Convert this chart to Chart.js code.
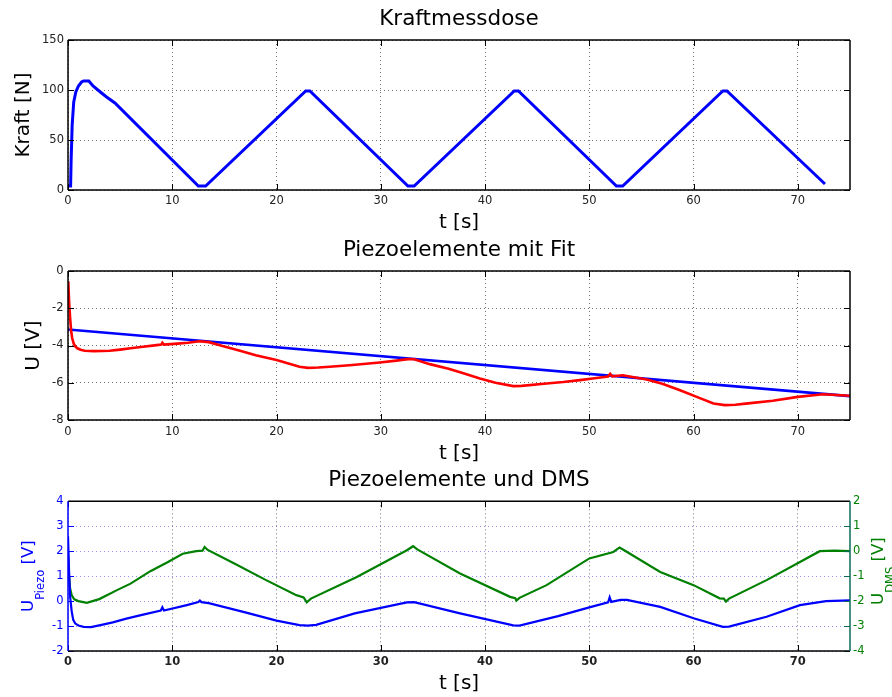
<!DOCTYPE html>
<html>
<head>
<meta charset="utf-8">
<script src="https://cdn.jsdelivr.net/npm/chart.js@4.4.1/dist/chart.umd.min.js"></script>
<style>
  html, body { margin: 0; padding: 0; background: #fff; }
  #wrap { position: relative; width: 892px; height: 697px; overflow: hidden; background: #fff; }
  #wrap canvas { position: absolute; left: 0; }
</style>
</head>
<body>
<div id="wrap">
  <canvas id="c1" width="892" height="236" style="top:0px"></canvas>
  <canvas id="c2" width="892" height="232" style="top:236px"></canvas>
  <canvas id="c3" width="892" height="229" style="top:468px"></canvas>
</div>
<script>
// ---- Kraftmessdose: force over time ----
const kraftT = [0.05, 0.25, 0.3, 0.4, 0.55, 0.75, 1.0, 1.3, 1.5, 2.0, 2.4, 3.1, 3.7, 4.5, 12.5, 13.2,
                22.8, 23.2, 32.6, 33.2, 42.8, 43.2, 52.6, 53.2, 62.8, 63.2, 72.6];
const kraftF = [4, 4, 30, 65, 88, 98, 104, 108, 109, 109, 104, 98, 93, 87, 4, 4,
                99, 99, 4, 4, 99, 99, 4, 4, 99, 99, 6];

// ---- Piezoelemente mit Fit: measured voltage and linear fit ----
const piezoT = [0.03, 0.1, 0.2, 0.3, 0.4, 0.55, 0.7, 0.9, 1.2, 1.6, 2.5, 4.0, 5.0, 6.0, 7.0, 8.5, 8.95, 9.05, 9.2,
                10.5, 11.5, 12.6, 13.5, 15.0, 16.5, 18.0, 20.0, 22.2, 23.0, 24.0, 25.1, 27.0, 29.9, 31.5, 32.6, 33.2,
                34.7, 36.5, 38.0, 39.5, 41.0, 42.7, 43.5, 45.9, 47.5, 49.1, 50.5, 51.8, 52.0, 52.2, 53.2, 55.5,
                57.0, 58.7, 60.3, 61.9, 63.0, 64.0, 65.0, 67.6, 70.0, 72.4, 75.0];
const piezoU = [-0.55, -1.6, -2.5, -3.2, -3.6, -3.9, -4.05, -4.15, -4.23, -4.28, -4.3, -4.28, -4.22, -4.15, -4.08, -3.98, -3.95, -3.85, -3.95,
                -3.9, -3.85, -3.77, -3.82, -4.05, -4.28, -4.52, -4.78, -5.14, -5.2, -5.18, -5.14, -5.06, -4.91, -4.81, -4.73, -4.74,
                -5.0, -5.25, -5.5, -5.77, -6.0, -6.18, -6.17, -6.04, -5.96, -5.86, -5.76, -5.66, -5.52, -5.66, -5.6, -5.82,
                -6.05, -6.4, -6.76, -7.11, -7.2, -7.18, -7.12, -6.97, -6.76, -6.62, -6.7];
const fitT = [0, 75];
const fitU = [-3.14, -6.72];

// ---- Piezoelemente und DMS ----
const piezo2T = [0, 0.1, 0.2, 0.35, 0.5, 0.7, 1.0, 1.5, 2.2, 3.0, 4.3, 5.6, 7.0, 8.9, 9.05, 9.2, 11.4, 12.5, 12.65, 12.8,
                 13.5, 17.0, 20.0, 22.2, 23.0, 23.8, 27.5, 32.5, 33.2, 37.6, 42.7, 43.3, 47.0, 50.0, 51.8, 51.95, 52.1,
                 53.0, 53.6, 56.8, 60.0, 62.8, 63.4, 67.0, 70.2, 72.7, 75.0];
const piezo2U = [2.6, 1.2, 0.2, -0.4, -0.75, -0.9, -0.98, -1.03, -1.04, -0.97, -0.85, -0.7, -0.56, -0.38, -0.25, -0.38, -0.16, -0.04, 0.02, -0.04,
                 -0.08, -0.45, -0.78, -0.96, -0.98, -0.95, -0.49, -0.05, -0.04, -0.49, -0.97, -0.98, -0.6, -0.25, -0.05, 0.15, -0.03,
                 0.05, 0.05, -0.23, -0.69, -1.03, -1.02, -0.63, -0.16, 0.0, 0.03];
const dmsT = [0, 0.1, 0.2, 0.35, 0.6, 1.0, 1.8, 3.0, 4.7, 6.0, 7.9, 9.5, 11.0, 12.3, 12.9, 13.1, 13.4, 16.0, 19.0, 21.9,
              22.6, 22.9, 23.3, 27.7, 32.5, 33.1, 33.5, 37.6, 42.4, 42.9, 43.0, 43.3, 45.9, 50.0, 52.3, 52.9, 53.3,
              56.8, 60.0, 62.5, 62.9, 63.1, 63.4, 67.0, 70.2, 72.1, 73.5, 75.0];
const dmsU = [0.0, -1.0, -1.5, -1.76, -1.93, -2.0, -2.07, -1.92, -1.56, -1.3, -0.8, -0.45, -0.1, 0.0, 0.02, 0.17, 0.05, -0.5, -1.16, -1.76,
              -1.85, -2.05, -1.9, -1.03, 0.04, 0.2, 0.07, -0.89, -1.83, -1.88, -1.98, -1.87, -1.36, -0.29, -0.03, 0.15, 0.05,
              -0.83, -1.36, -1.89, -1.9, -2.02, -1.9, -1.16, -0.43, 0.0, 0.02, 0.0];

const FONT = "'DejaVu Sans', sans-serif";
Chart.defaults.font.family = FONT;
Chart.defaults.color = '#222';

const pts = (xs, ys) => xs.map((x, i) => ({ x, y: ys[i] }));
const GRID = 'rgba(0,0,0,0.55)';
const DMS_GREEN = '#008000';
const RIGHT_AXIS = '#0a6a5a';

// Axes box with inward tick marks on all four sides
const framePlugin = {
  id: 'frame',
  afterDatasetsDraw(chart, args, opts) {
    const { ctx, chartArea: a } = chart;
    const L = 6;
    const xs = chart.scales.x, yl = chart.scales.y, yr = chart.scales.y2 || chart.scales.y;
    ctx.save();
    ctx.lineWidth = 1;
    ctx.strokeStyle = '#000';
    ctx.beginPath();
    xs.ticks.forEach(t => {
      const px = Math.round(xs.getPixelForValue(t.value)) + 0.5;
      ctx.moveTo(px, a.bottom); ctx.lineTo(px, a.bottom - L);
      ctx.moveTo(px, a.top); ctx.lineTo(px, a.top + L);
    });
    ctx.stroke();
    ctx.strokeStyle = opts.left;
    ctx.beginPath();
    yl.ticks.forEach(t => {
      const py = Math.round(yl.getPixelForValue(t.value)) + 0.5;
      ctx.moveTo(a.left, py); ctx.lineTo(a.left + L, py);
      if (yr === yl) { ctx.moveTo(a.right, py); ctx.lineTo(a.right - L, py); }
    });
    ctx.stroke();
    if (yr !== yl) {
      ctx.strokeStyle = opts.right;
      ctx.beginPath();
      yr.ticks.forEach(t => {
        const py = Math.round(yr.getPixelForValue(t.value)) + 0.5;
        ctx.moveTo(a.right, py); ctx.lineTo(a.right - L, py);
      });
      ctx.stroke();
    }
    ctx.lineWidth = 1.5;
    ctx.strokeStyle = '#000';
    ctx.beginPath();
    ctx.moveTo(a.left, a.top); ctx.lineTo(a.right, a.top);
    ctx.moveTo(a.left, a.bottom); ctx.lineTo(a.right, a.bottom);
    ctx.stroke();
    ctx.strokeStyle = opts.left;
    ctx.beginPath(); ctx.moveTo(a.left, a.top); ctx.lineTo(a.left, a.bottom); ctx.stroke();
    ctx.strokeStyle = opts.right;
    ctx.beginPath(); ctx.moveTo(a.right, a.top); ctx.lineTo(a.right, a.bottom); ctx.stroke();
    ctx.restore();
  }
};

// Rotated axis labels with a subscript, e.g. U_Piezo [V]
const subLabelPlugin = {
  id: 'subLabels',
  afterDraw(chart, args, opts) {
    const ctx = chart.ctx;
    const a = chart.chartArea;
    (opts.items || []).forEach(it => {
      ctx.save();
      ctx.font = `16.5px ${FONT}`;
      const w1 = ctx.measureText(it.main).width;
      const w3 = ctx.measureText(it.rest).width;
      ctx.font = `11.5px ${FONT}`;
      const w2 = ctx.measureText(it.sub).width;
      const total = w1 + w2 + w3;
      const cy = (a.top + a.bottom) / 2 + (it.shift || 0);
      ctx.translate(it.x, cy + total / 2);
      ctx.rotate(-Math.PI / 2);
      ctx.fillStyle = it.color;
      ctx.textBaseline = 'alphabetic';
      ctx.textAlign = 'left';
      ctx.font = `16.5px ${FONT}`;
      ctx.fillText(it.main, 0, 0);
      ctx.font = `11.5px ${FONT}`;
      ctx.fillText(it.sub, w1, 10.5);
      ctx.font = `16.5px ${FONT}`;
      ctx.fillText(it.rest, w1 + w2, 0);
      ctx.restore();
    });
  }
};

function xScale(h, tickPad, titlePad, tickFont) {
  return {
    type: 'linear', min: 0, max: 75,
    afterFit: s => { s.height = h; },
    ticks: { stepSize: 10, includeBounds: false, padding: tickPad, maxRotation: 0, color: '#222', font: tickFont || { size: 11.5 } },
    grid: { color: GRID, lineWidth: 1, drawTicks: false },
    border: { display: false, dash: [1, 3] },
    title: { display: true, text: 't [s]', color: '#000', font: { size: 20 }, padding: { top: 0, bottom: titlePad } }
  };
}

function baseOptions(titleText, titlePad, padRight) {
  return {
    responsive: false,
    animation: false,
    events: [],
    layout: { padding: { left: 0, right: padRight, top: 0, bottom: 0 } },
    plugins: {
      legend: { display: false },
      tooltip: { enabled: false },
      title: { display: true, text: titleText, fullSize: false, color: '#000', font: { size: 21.5, weight: 'normal' }, padding: titlePad }
    }
  };
}

// Chart 1: Kraftmessdose
const o1 = baseOptions('Kraftmessdose', { top: 6.7, bottom: 7.5 }, 42);
o1.plugins.frame = { left: '#000', right: '#000' };
o1.scales = {
  x: xScale(46, 4.5, 1.5),
  y: {
    min: 0, max: 150,
    afterFit: s => { s.width = 68; },
    ticks: { stepSize: 50, padding: 4, color: '#222', font: { size: 11.5 } },
    grid: { color: GRID, lineWidth: 1, drawTicks: false },
    border: { display: false, dash: [1, 3] },
    title: { display: true, text: 'Kraft [N]', color: '#000', font: { size: 20 }, padding: { top: 12, bottom: 0 } }
  }
};
new Chart(document.getElementById('c1'), {
  type: 'line',
  data: { datasets: [{ data: pts(kraftT, kraftF), borderColor: '#0000ff', borderWidth: 3, pointRadius: 0, tension: 0, fill: false }] },
  options: o1,
  plugins: [framePlugin]
});

// Chart 2: Piezoelemente mit Fit
const o2 = baseOptions('Piezoelemente mit Fit', { top: 1.1, bottom: 8.1 }, 42);
o2.plugins.frame = { left: '#000', right: '#000' };
o2.scales = {
  x: xScale(48, 4.8, 2.4),
  y: {
    min: -8, max: 0,
    afterFit: s => { s.width = 68; },
    ticks: { stepSize: 2, padding: 4.5, color: '#222', font: { size: 11.5 } },
    grid: { color: GRID, lineWidth: 1, drawTicks: false },
    border: { display: false, dash: [1, 3] },
    title: { display: true, text: 'U [V]', color: '#000', font: { size: 20 }, padding: { top: 22, bottom: 0 } }
  }
};
new Chart(document.getElementById('c2'), {
  type: 'line',
  data: { datasets: [
    { data: pts(piezoT, piezoU), borderColor: '#ff0000', borderWidth: 2.6, pointRadius: 0, tension: 0, fill: false },
    { data: pts(fitT, fitU), borderColor: '#0000ff', borderWidth: 2.6, pointRadius: 0, tension: 0, fill: false }
  ] },
  options: o2,
  plugins: [framePlugin]
});

// Chart 3: Piezoelemente und DMS (two y axes)
const o3 = baseOptions('Piezoelemente und DMS', { top: 0, bottom: 7.5 }, 0);
o3.plugins.frame = { left: '#0000ff', right: RIGHT_AXIS };
o3.plugins.subLabels = { items: [
  { x: 33.3, main: 'U', sub: 'Piezo', rest: ' [V]', color: '#0000ff', shift: 0 },
  { x: 883.3, main: 'U', sub: 'DMS', rest: ' [V]', color: DMS_GREEN, shift: -5 }
] };
o3.scales = {
  x: xScale(46, 4, 1.5, { size: 11.5, weight: 'bold' }),
  y: {
    position: 'left', min: -2, max: 4,
    afterFit: s => { s.width = 68; },
    ticks: { stepSize: 1, padding: 4.5, color: '#0000ff', font: { size: 11.5 } },
    grid: { color: 'rgba(70,70,255,0.6)', lineWidth: 1, drawTicks: false },
    border: { display: false, dash: [1, 3] }
  },
  y2: {
    position: 'right', min: -4, max: 2,
    afterFit: s => { s.width = 42; },
    ticks: { stepSize: 1, padding: 3, color: DMS_GREEN, font: { size: 11.5 } },
    grid: { drawOnChartArea: false, drawTicks: false },
    border: { display: false }
  }
};
new Chart(document.getElementById('c3'), {
  type: 'line',
  data: { datasets: [
    { data: pts(piezo2T, piezo2U), yAxisID: 'y', borderColor: '#0000ff', borderWidth: 2.2, pointRadius: 0, tension: 0, fill: false },
    { data: pts(dmsT, dmsU), yAxisID: 'y2', borderColor: DMS_GREEN, borderWidth: 2.2, pointRadius: 0, tension: 0, fill: false }
  ] },
  options: o3,
  plugins: [framePlugin, subLabelPlugin]
});
</script>
</body>
</html>
